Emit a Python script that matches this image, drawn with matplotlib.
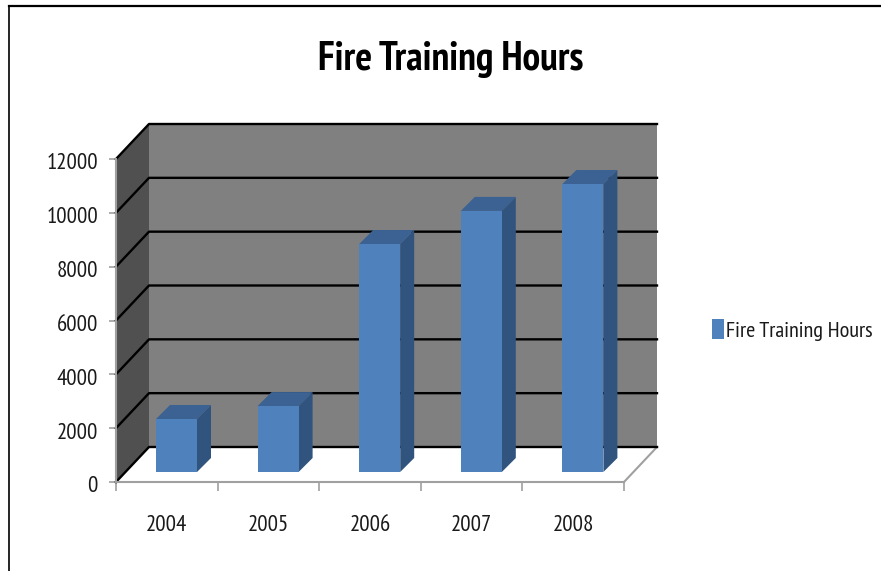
import matplotlib
matplotlib.use("Agg")
import matplotlib.pyplot as plt
from matplotlib.lines import Line2D
from matplotlib.patches import Polygon
from matplotlib.transforms import ScaledTranslation

plt.rcParams['font.family'] = ['PT Sans Narrow', 'Carlito', 'Liberation Sans']

years = ['2004', '2005', '2006', '2007', '2008']
hours = [1970, 2450, 8470, 9700, 10700]
y_ticks = [0, 2000, 4000, 6000, 8000, 10000, 12000]

# fake 3d, depth in data units (axes is the front plane)
W, H = 881, 571
x_unit = 508 / 5      # px per category
y_unit = 323 / 12000  # px per hour
depth_x = 33 / x_unit
depth_y = 35 / y_unit
bar_dx = 14 / x_unit
bar_dy = 14 / y_unit
bar_w = 41 / x_unit
bar_shift = 60.5 / x_unit
bar_base = 10 / y_unit

fig = plt.figure(figsize=(W / 100, H / 100), dpi=100)
ax = fig.add_axes([116 / W, 1 - 482 / H, 508 / W, 323 / H])
ax.set_xlim(0, 5)
ax.set_ylim(0, 12000)
ax.patch.set_visible(False)

# walls
ax.add_patch(Polygon([(depth_x, depth_y), (5 + depth_x, depth_y),
                      (5 + depth_x, 12000 + depth_y), (depth_x, 12000 + depth_y)],
                     fc='#808080', ec='none', clip_on=False, zorder=1))
ax.add_patch(Polygon([(0, 0), (depth_x, depth_y), (depth_x, 12000 + depth_y), (0, 12000)],
                     fc='#505050', ec='none', clip_on=False, zorder=1))
# floor
ax.plot([5, 5 + depth_x], [0, depth_y], color='#a0a0a0', lw=1.5, clip_on=False, zorder=2)

# gridlines
for v in y_ticks:
    ax.plot([0, depth_x, 5 + depth_x], [v, v + depth_y, v + depth_y],
            color='black', lw=1.7, clip_on=False, zorder=2)

# bars
xs = [i + bar_shift for i in range(len(years))]
bars = ax.bar(xs, hours, width=bar_w, bottom=bar_base, color='#4f81bd',
              label='Fire Training Hours', zorder=5, clip_on=False)
for x, v in zip(xs, hours):
    l, r = x - bar_w / 2, x + bar_w / 2
    top = bar_base + v
    ax.add_patch(Polygon([(l, top), (r, top), (r + bar_dx, top + bar_dy), (l + bar_dx, top + bar_dy)],
                         fc='#3b6293', ec='none', clip_on=False, zorder=4))
    ax.add_patch(Polygon([(r, bar_base), (r + bar_dx, bar_base + bar_dy),
                          (r + bar_dx, top + bar_dy), (r, top)],
                         fc='#31547f', ec='none', clip_on=False, zorder=4))

# axes
for s in ['top', 'right']:
    ax.spines[s].set_visible(False)
for s in ['left', 'bottom']:
    ax.spines[s].set_color('#a0a0a0')
    ax.spines[s].set_linewidth(1.5)
    ax.spines[s].set_zorder(3)

ax.set_yticks(y_ticks)
ax.set_xticks(range(6))
ax.set_xticklabels([])
ax.set_xticks([i + 0.5 for i in range(5)], minor=True)
ax.set_xticklabels(years, minor=True, fontsize=16.5, color='#1a1a1a')
ax.tick_params(axis='x', which='major', length=6.5, width=1.2, color='#a0a0a0')
ax.tick_params(axis='x', which='minor', length=0, pad=24)
ax.tick_params(axis='y', length=5, width=1.2, color='#a0a0a0', pad=8, labelsize=16.5, labelcolor='#1a1a1a')
# y labels sit a little below their ticks
for lab in ax.get_yticklabels():
    lab.set_transform(lab.get_transform() + ScaledTranslation(0, -2.5 / 100, fig.dpi_scale_trans))

fig.text(451 / W, 1 - 60 / H, 'Fire Training Hours', ha='center', va='center',
         fontsize=28.5, fontweight='bold', color='black')

fig.legend(handles=[bars[0]], labels=['Fire Training Hours'], loc='center left',
           bbox_to_anchor=(692 / W, 1 - 330 / H), frameon=False, fontsize=16,
           handlelength=0.53, handleheight=1.0, handletextpad=0.12, labelcolor='#1a1a1a')

# outer chart border
fig.add_artist(Line2D([9 / W, 9 / W], [0, 1 - 6 / H], color='black', lw=1.2))
fig.add_artist(Line2D([9 / W, 1], [1 - 6 / H, 1 - 6 / H], color='black', lw=1.6))

fig.savefig('out.png', dpi=100)
